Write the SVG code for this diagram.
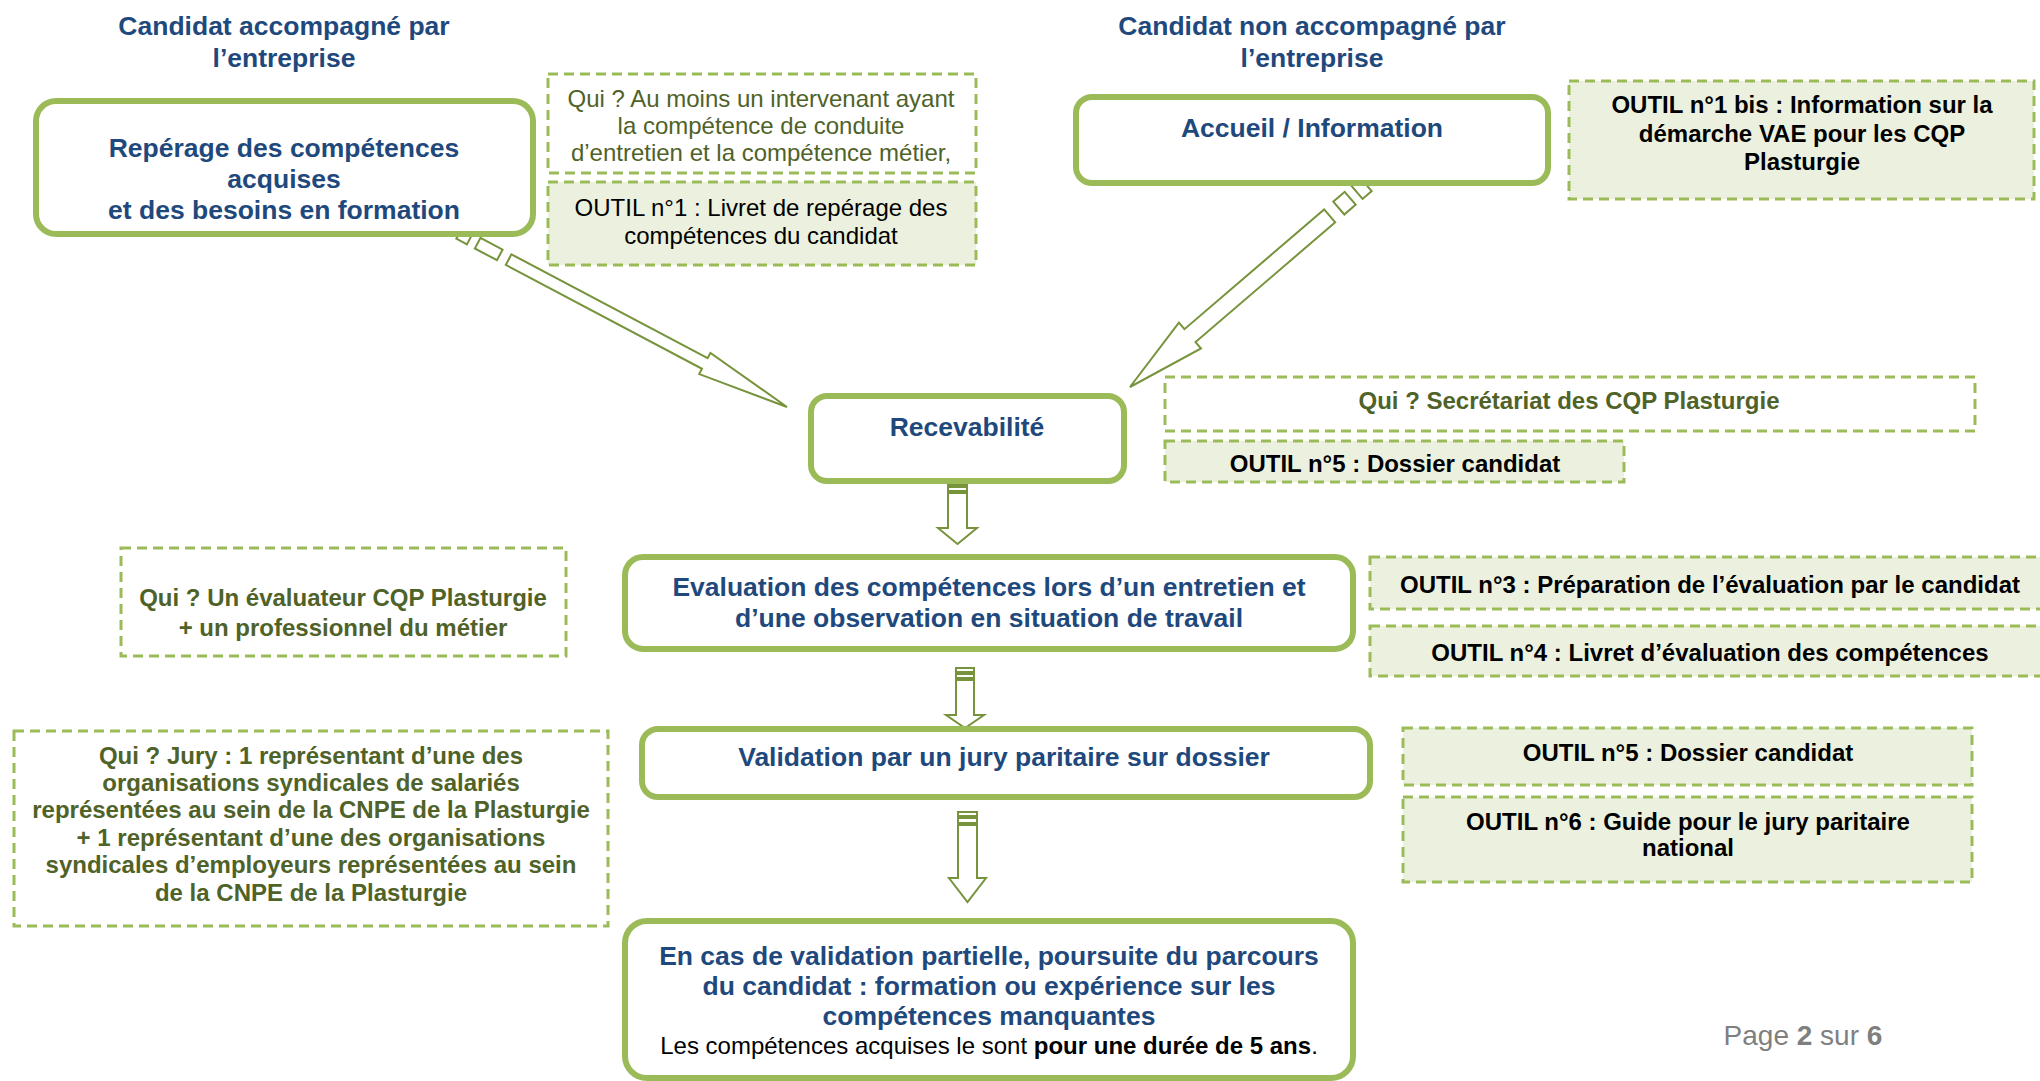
<svg xmlns="http://www.w3.org/2000/svg" width="2040" height="1081" viewBox="0 0 2040 1081">
<style>
.bg{fill:#ffffff}
.box{fill:#ffffff;stroke:#9BBB59;stroke-width:6}
.dw{fill:#ffffff;stroke:#9BBB59;stroke-width:3;stroke-dasharray:10 6}
.dg{fill:#EBF1DE;stroke:#9BBB59;stroke-width:3;stroke-dasharray:10 6}
.arr{fill:#ffffff;stroke:#77933C;stroke-width:2;stroke-linejoin:miter}
text{font-family:"Liberation Sans",Arial,sans-serif;text-anchor:middle}
.t{font-size:26.5px;font-weight:bold;fill:#1F497D}
.q{font-size:24px;fill:#4F6228}
.qb{font-size:24px;font-weight:bold;fill:#4F6228}
.o{font-size:24px;fill:#000000}
.ob{font-size:24px;font-weight:bold;fill:#000000}
.pg{font-size:28px;fill:#7F7F7F}
</style>
<rect class="bg" x="0" y="0" width="2040" height="1081"/>

<g id="connectors">
  <g transform="translate(787,407) rotate(27.9)">
    <rect class="arr" x="-371" y="-6" width="12" height="12"/>
    <rect class="arr" x="-350" y="-6" width="25" height="12"/>
    <polygon class="arr" points="-315,-6 -93,-6 -93,-12 0,0 -93,12 -93,6 -315,6"/>
  </g>
  <g transform="translate(1130,387) rotate(139.4)">
    <rect class="arr" x="-311" y="-8.5" width="12" height="17"/>
    <rect class="arr" x="-290" y="-8.5" width="15" height="17"/>
    <polygon class="arr" points="-263,-8.5 -79,-8.5 -79,-17 0,0 -79,17 -79,8.5 -263,8.5"/>
  </g>
  <g>
    <rect class="arr" x="948" y="481" width="19" height="4"/>
    <rect class="arr" x="948" y="487" width="19" height="4"/>
    <polygon class="arr" points="948,493 967,493 967,528 977,528 957.5,544 938,528 948,528"/>
  </g>
  <g>
    <rect class="arr" x="956" y="668" width="18" height="4"/>
    <rect class="arr" x="956" y="674" width="18" height="4"/>
    <polygon class="arr" points="956,680 974,680 974,715 984,715 965,728 946,715 956,715"/>
  </g>
  <g>
    <rect class="arr" x="958" y="812" width="19" height="4"/>
    <rect class="arr" x="958" y="818" width="19" height="5"/>
    <polygon class="arr" points="958,825 977,825 977,878 986,878 967.5,902 949,878 958,878"/>
  </g>
</g>

<g id="title-accompagne">
  <text class="t" x="284" y="34.5">Candidat accompagné par</text>
  <text class="t" x="284" y="66.5">l’entreprise</text>
</g>
<g id="title-non-accompagne">
  <text class="t" x="1312" y="34.5">Candidat non accompagné par</text>
  <text class="t" x="1312" y="66.5">l’entreprise</text>
</g>

<g id="node-reperage">
  <rect class="box" x="36" y="101" width="497" height="133" rx="20"/>
  <text class="t" x="284" y="157">Repérage des compétences</text>
  <text class="t" x="284" y="188">acquises</text>
  <text class="t" x="284" y="219">et des besoins en formation</text>
</g>
<g id="qui-reperage">
  <rect class="dw" x="548" y="74" width="428" height="99"/>
  <text class="q" x="761" y="106.5">Qui ? Au moins un intervenant ayant</text>
  <text class="q" x="761" y="133.5">la compétence de conduite</text>
  <text class="q" x="761" y="160.5">d’entretien et la compétence métier,</text>
</g>
<g id="outil-1">
  <rect class="dg" x="548" y="182" width="428" height="83"/>
  <text class="o" x="761" y="215.5">OUTIL n°1 : Livret de repérage des</text>
  <text class="o" x="761" y="243.5">compétences du candidat</text>
</g>

<g id="node-accueil">
  <rect class="box" x="1076" y="97" width="472" height="86" rx="16"/>
  <text class="t" x="1312" y="136.5">Accueil / Information</text>
</g>
<g id="outil-1bis">
  <rect class="dg" x="1569" y="81" width="465" height="118"/>
  <text class="ob" x="1802" y="112.5">OUTIL n°1 bis : Information sur la</text>
  <text class="ob" x="1802" y="141.5">démarche VAE pour les CQP</text>
  <text class="ob" x="1802" y="169.5">Plasturgie</text>
</g>

<g id="node-recevabilite">
  <rect class="box" x="811" y="396" width="313" height="85" rx="16"/>
  <text class="t" x="967" y="436">Recevabilité</text>
</g>
<g id="qui-secretariat">
  <rect class="dw" x="1165" y="377" width="810" height="54"/>
  <text class="qb" x="1569" y="408.5">Qui ? Secrétariat des CQP Plasturgie</text>
</g>
<g id="outil-5a">
  <rect class="dg" x="1165" y="441" width="459" height="41"/>
  <text class="ob" x="1395" y="471.5">OUTIL n°5 : Dossier candidat</text>
</g>

<g id="node-evaluation">
  <rect class="box" x="625" y="557" width="728" height="92" rx="18"/>
  <text class="t" x="989" y="596">Evaluation des compétences lors d’un entretien et</text>
  <text class="t" x="989" y="627">d’une observation en situation de travail</text>
</g>
<g id="qui-evaluateur">
  <rect class="dw" x="121" y="548" width="445" height="108"/>
  <text class="qb" x="343" y="605.5">Qui ? Un évaluateur CQP Plasturgie</text>
  <text class="qb" x="343" y="635.5">+ un professionnel du métier</text>
</g>
<g id="outil-3">
  <rect class="dg" x="1370" y="557" width="680" height="52"/>
  <text class="ob" x="1710" y="592.5">OUTIL n°3 : Préparation de l’évaluation par le candidat</text>
</g>
<g id="outil-4">
  <rect class="dg" x="1370" y="626" width="680" height="50"/>
  <text class="ob" x="1710" y="660.5">OUTIL n°4 : Livret d’évaluation des compétences</text>
</g>

<g id="node-validation">
  <rect class="box" x="642" y="729" width="728" height="68" rx="16"/>
  <text class="t" x="1004" y="766">Validation par un jury paritaire sur dossier</text>
</g>
<g id="qui-jury">
  <rect class="dw" x="14" y="731" width="594" height="195"/>
  <text class="qb" x="311" y="763.5">Qui ? Jury : 1 représentant d’une des</text>
  <text class="qb" x="311" y="790.5">organisations syndicales de salariés</text>
  <text class="qb" x="311" y="817.5">représentées au sein de la CNPE de la Plasturgie</text>
  <text class="qb" x="311" y="845.5">+ 1 représentant d’une des organisations</text>
  <text class="qb" x="311" y="872.5">syndicales d’employeurs représentées au sein</text>
  <text class="qb" x="311" y="900.5">de la CNPE de la Plasturgie</text>
</g>
<g id="outil-5b">
  <rect class="dg" x="1403" y="728" width="569" height="57"/>
  <text class="ob" x="1688" y="760.5">OUTIL n°5 : Dossier candidat</text>
</g>
<g id="outil-6">
  <rect class="dg" x="1403" y="797" width="569" height="85"/>
  <text class="ob" x="1688" y="829.5">OUTIL n°6 : Guide pour le jury paritaire</text>
  <text class="ob" x="1688" y="855.5">national</text>
</g>

<g id="node-poursuite">
  <rect class="box" x="625" y="921" width="728" height="157" rx="22"/>
  <text class="t" x="989" y="964.5">En cas de validation partielle, poursuite du parcours</text>
  <text class="t" x="989" y="994.5">du candidat : formation ou expérience sur les</text>
  <text class="t" x="989" y="1025">compétences manquantes</text>
  <text class="o" x="989" y="1054">Les compétences acquises le sont <tspan font-weight="bold">pour une durée de 5 ans</tspan>.</text>
</g>

<g id="page-number">
  <text class="pg" x="1803" y="1045">Page <tspan font-weight="bold">2</tspan> sur <tspan font-weight="bold">6</tspan></text>
</g>
</svg>
